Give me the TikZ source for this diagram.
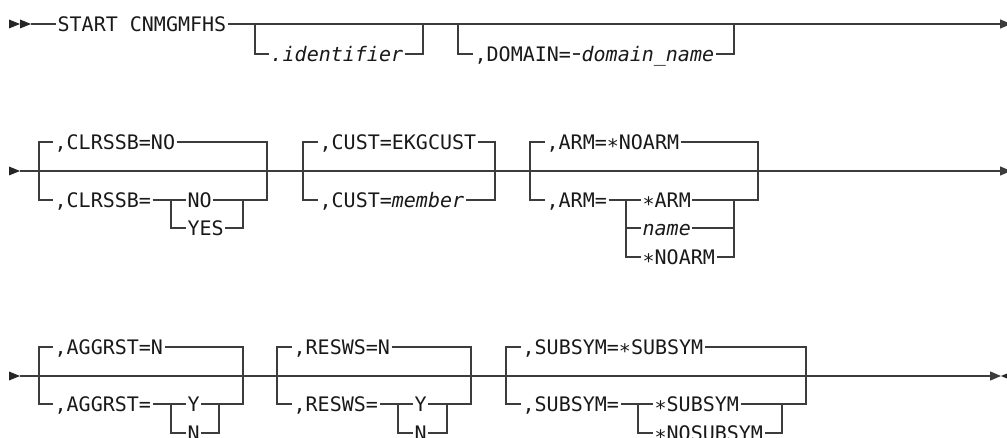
\documentclass[tikz,border=0pt]{standalone}
\usepackage{fontspec}
\setmainfont{DejaVu Sans Mono}[ItalicFont={DejaVu Sans Mono Oblique}]
\usetikzlibrary{arrows.meta}
\definecolor{railgray}{HTML}{3C3C3C}
\newcommand{\rstar}{\raisebox{-0.22em}{*}}

\begin{document}
\begin{tikzpicture}[x=1pt,y=-1pt,line width=1.3pt,color=railgray,>={Triangle[length=11pt,width=9pt]},kw/.style={anchor=west,inner xsep=1pt,inner ysep=0pt,text height=14.6pt,text depth=0pt,text=black!90,font=\fontsize{20}{24}\selectfont},railhead/.pic={\fill[black!85] (0,-4.5) -- (11,0) -- (0,4.5) -- cycle;}]
            \useasboundingbox (0,0) rectangle (1007,438);

            % line 1
            \pic at (9,24) {railhead};
            \pic at (20,24) {railhead};
            \coordinate (1a) at (31,24);
            \coordinate (1z) at (1011,24);
            \node[kw] (start) at (56,24) {START CNMGMFHS};
            \draw (1a) -- (start);
            \draw[->] (start) -- (1z);

            \coordinate (identin) at (255,24);
            \coordinate (identout) at (423,24);
            \node[kw] (ident) at (269,54) {\textit{.identifier}};
            \draw (identin) |- (ident);
            \draw (ident) -| (identout);

            \coordinate (domin) at (458,24);
            \coordinate (domout) at (734,24);
            \node[kw] (dom) at (473,54) {,DOMAIN=};
            \node[kw] (domval) at (580,54) {\textit{domain\_name}};
            \draw (domin) |- (dom);
            \draw (dom) -- (domval);
            \draw (domval) -| (domout);

            % line 2
            \pic at (9,171) {railhead};
            \coordinate (2a) at (20,171);
            \coordinate (2z) at (1011,171);
            \draw[->] (2a) -- (2z);

            \coordinate (clrin) at (39,171);
            \coordinate (clrout) at (267,171);
            \coordinate (clrfork) at (171,200);
            \coordinate (clrjoin) at (243,200);
            \node[kw] (clr1) at (53,142) {,CLRSSB=NO};
            \node[kw] (clr2) at (53,200) {,CLRSSB=};
            \node[kw] (clrno) at (186,200) {NO};
            \node[kw] (clryes) at (186,228) {YES};
            \draw (clr1) -| (clrin) |- (clr2);
            \draw (clr1) -| (clrout) |- (clrjoin);
            \draw (clr2) -- (clrno);
            \draw (clrfork) |- (clryes);
            \draw (clrno) -- (clrjoin) |- (clryes);

            \coordinate (custin) at (303,171);
            \coordinate (custout) at (495,171);
            \node[kw] (cust1) at (318,142) {,CUST=EKGCUST};
            \node[kw] (cust2) at (318,200) {,CUST=\textit{member}};
            \draw (cust1) -| (custin) |- (cust2);
            \draw (cust1) -| (custout) |- (cust2);

            \coordinate (armin) at (530,171);
            \coordinate (armout) at (758,171);
            \coordinate (armfork) at (626,200);
            \coordinate (armjoin) at (734,200);
            \node[kw] (arm1) at (545,142) {,ARM=\rstar NOARM};
            \node[kw] (arm2) at (545,200) {,ARM=};
            \node[kw] (armarm) at (641,200) {\rstar ARM};
            \node[kw] (armname) at (641,228) {\textit{name}};
            \node[kw] (armno) at (641,257) {\rstar NOARM};
            \draw (arm1) -| (armin) |- (arm2);
            \draw (arm1) -| (armout) |- (armjoin);
            \draw (arm2) -- (armarm);
            \draw (armfork) |- (armname);
            \draw (armfork) |- (armno);
            \draw (armarm) -- (armjoin) |- (armno);
            \draw (armname) -| (armjoin);

            % line 3
            \pic at (9,376) {railhead};
            \pic[xscale=-1] at (1012,376) {railhead};
            \coordinate (3a) at (20,376);
            \coordinate (3z) at (1001,376);
            \draw[->] (3a) -- (3z);

            \coordinate (aggin) at (39,376);
            \coordinate (aggout) at (243,376);
            \coordinate (aggfork) at (171,404);
            \coordinate (aggjoin) at (219,404);
            \node[kw] (agg1) at (53,347) {,AGGRST=N};
            \node[kw] (agg2) at (53,404) {,AGGRST=};
            \node[kw] (aggy) at (186,404) {Y};
            \node[kw] (aggn) at (186,433) {N};
            \draw (agg1) -| (aggin) |- (agg2);
            \draw (agg1) -| (aggout) |- (aggjoin);
            \draw (agg2) -- (aggy);
            \draw (aggfork) |- (aggn);
            \draw (aggy) -- (aggjoin) |- (aggn);

            \coordinate (resin) at (277,376);
            \coordinate (resout) at (471,376);
            \coordinate (resfork) at (398,404);
            \coordinate (resjoin) at (447,404);
            \node[kw] (res1) at (292,347) {,RESWS=N};
            \node[kw] (res2) at (292,404) {,RESWS=};
            \node[kw] (resy) at (413,404) {Y};
            \node[kw] (resn) at (413,433) {N};
            \draw (res1) -| (resin) |- (res2);
            \draw (res1) -| (resout) |- (resjoin);
            \draw (res2) -- (resy);
            \draw (resfork) |- (resn);
            \draw (resy) -- (resjoin) |- (resn);

            \coordinate (subin) at (506,376);
            \coordinate (subout) at (806,376);
            \coordinate (subfork) at (638,404);
            \coordinate (subjoin) at (782,404);
            \node[kw] (sub1) at (521,347) {,SUBSYM=\rstar SUBSYM};
            \node[kw] (sub2) at (521,404) {,SUBSYM=};
            \node[kw] (subsub) at (653,404) {\rstar SUBSYM};
            \node[kw] (subno) at (653,433) {\rstar NOSUBSYM};
            \draw (sub1) -| (subin) |- (sub2);
            \draw (sub1) -| (subout) |- (subjoin);
            \draw (sub2) -- (subsub);
            \draw (subfork) |- (subno);
            \draw (subsub) -- (subjoin) |- (subno);
        \end{tikzpicture}
\end{document}
